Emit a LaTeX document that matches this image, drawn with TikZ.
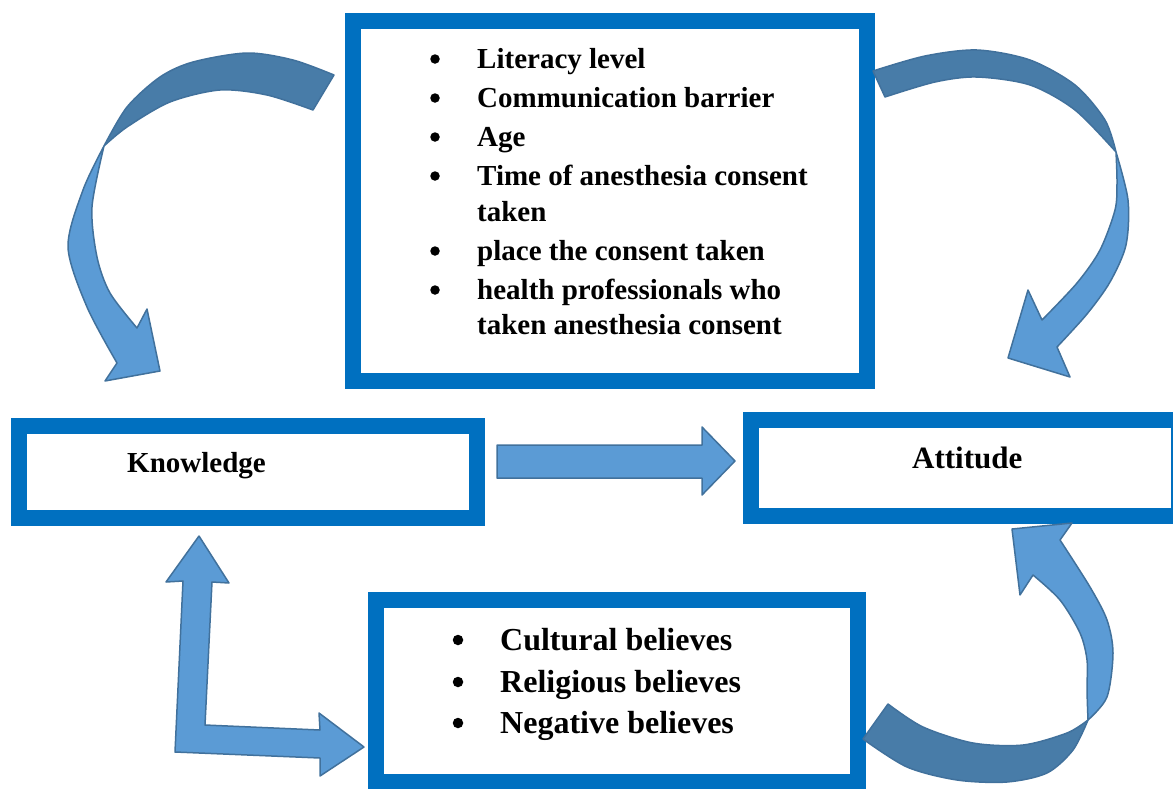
\documentclass[tikz,border=0pt]{standalone}
\usepackage{fontspec}
\setmainfont{Liberation Serif}

\definecolor{boxblue}{RGB}{0,112,192}
\definecolor{arrowblue}{RGB}{91,155,213}
\definecolor{arrowedge}{RGB}{65,113,156}
\definecolor{arrowdark}{RGB}{72,124,168}

\tikzset{
  framebox/.style={draw=boxblue, line width=16pt, inner sep=0pt},
  blockarrow/.style={fill=arrowblue, draw=arrowedge, line width=1.5pt, line join=round},
  backband/.style={blockarrow, fill=arrowdark},
  listtext/.style={anchor=base west, inner sep=0pt, font=\bfseries\fontsize{29}{35}\selectfont},
  beliefstext/.style={anchor=base west, inner sep=0pt, font=\bfseries\fontsize{32}{40}\selectfont},
  dot/.style={circle, fill=black, inner sep=0pt, minimum size=#1},
  boxlabel/.style={anchor=base west, inner sep=0pt, font=\bfseries\fontsize{29}{35}\selectfont}
}

\begin{document}
\begin{tikzpicture}[x=1pt, y=-1pt]
  \useasboundingbox (0,0) rectangle (1173,788);
  \clip (0,0) rectangle (1173,788);

  % the four boxes
  \node[framebox, minimum width=514pt, minimum height=360pt] (topbox) at (610,201) {};
  \node[framebox, minimum width=458pt, minimum height=92pt] (knowbox) at (248,472) {};
  \node[framebox, minimum width=428pt, minimum height=96pt] (attbox) at (965,468) {};
  \node[framebox, minimum width=482pt, minimum height=182pt] (belbox) at (617,691) {};

  % factors in the top box
  \foreach \y [count=\i] in {68,107,146,185,260,299}
    \node[dot=9.5pt] (tb\i) at (435,\y-9) {};
  \node[listtext] (literacy) at (477,68) {Literacy level};
  \node[listtext] (barrier) at (477,107) {Communication barrier};
  \node[listtext] (age) at (477,146) {Age};
  \node[listtext] (time) at (477,185) {Time of anesthesia consent};
  \node[listtext] (timeb) at (477,221) {taken};
  \node[listtext] (place) at (477,260) {place the consent taken};
  \node[listtext] (prof) at (477,299) {health professionals who};
  \node[listtext] (profb) at (477,334) {taken anesthesia consent};

  % beliefs in the bottom box
  \foreach \y [count=\i] in {650,692,733}
    \node[dot=10.5pt] (bb\i) at (458,\y-10) {};
  \node[beliefstext] (cultural) at (500,650) {Cultural believes};
  \node[beliefstext] (religious) at (500,692) {Religious believes};
  \node[beliefstext] (negative) at (500,733) {Negative believes};

  \node[boxlabel] (knowledge) at (127,472) {Knowledge};
  \node[boxlabel, font=\bfseries\fontsize{31}{37}\selectfont] (attitude) at (912,468) {Attitude};

  % straight arrow
  \draw[blockarrow] (497,445) -- (702,445) -- (702,427) -- (735,461) -- (702,495)
    -- (702,478) -- (497,478) -- cycle;

  % bent double arrow
  \draw[blockarrow] (199,536) -- (229,583) -- (212,582) -- (205,725) -- (320,730)
    -- (319,713) -- (364,747) -- (320,776) -- (320,758) -- (175,752) -- (183,581)
    -- (166,582) -- cycle;

  % curved arrow, top left
  \draw[backband] plot[smooth] coordinates {(104,146) (127,107) (160,77) (193,62) (247,53) (293,60) (334,75)}
    -- plot[smooth] coordinates {(313,110) (267,95) (220,90) (170,102) (127,127) (104,146)} -- cycle;
  \draw[blockarrow] plot[smooth] coordinates {(104,146) (83,190) (68,247) (87,307) (117,363)}
    -- (105,381) -- (160,371) -- (147,309)
    -- plot[smooth] coordinates {(137,328) (110,293) (97,257) (92,207) (104,146)} -- cycle;

  % curved arrow, top right
  \draw[backband] plot[smooth] coordinates {(873,71) (925,56) (977,50) (1030,60) (1075,85) (1105,120) (1116,152)}
    -- plot[smooth] coordinates {(1116,152) (1075,110) (1030,85) (977,77) (935,82) (885,97)} -- cycle;
  \draw[blockarrow] plot[smooth] coordinates {(1116,152) (1128,200) (1126,245) (1110,282) (1087,314) (1057,347)}
    -- (1070,377) -- (1008,358) -- (1028,290)
    -- plot[smooth] coordinates {(1042,320) (1077,283) (1100,250) (1115,210) (1117,183) (1116,152)} -- cycle;

  % curved arrow, bottom right
  \draw[backband] plot[smooth] coordinates {(888,704) (923,727) (973,743) (1023,745) (1067,733) (1088,720)}
    -- plot[smooth] coordinates {(1088,720) (1073,750) (1047,773) (1007,782) (957,780) (907,767) (863,739)} -- cycle;
  \draw[blockarrow] plot[smooth] coordinates {(1088,720) (1107,697) (1113,653) (1107,620) (1090,587) (1060,540)}
    -- (1072,523) -- (1012,529) -- (1020,595)
    -- plot[smooth] coordinates {(1033,575) (1060,600) (1080,633) (1087,660) (1087,690) (1088,720)} -- cycle;
\end{tikzpicture}
\end{document}
